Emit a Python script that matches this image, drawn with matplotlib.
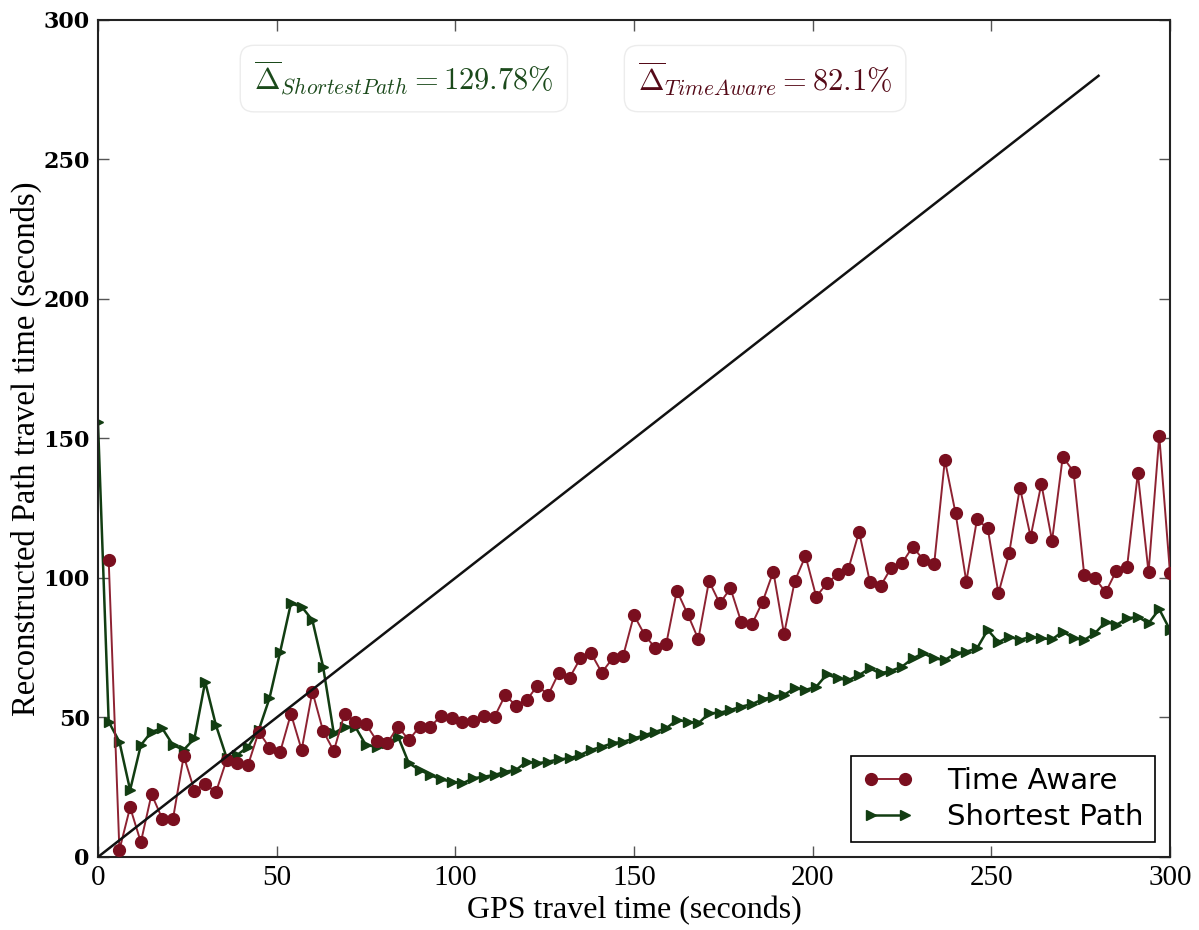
import matplotlib
matplotlib.use("Agg")
import matplotlib.pyplot as plt
import numpy as np

# ---- data ----
time_aware_x = [3 * k for k in range(1, 101)]
time_aware_y = [106.5, 2.5, 17.8, 5.3, 22.5, 13.7, 13.7, 36.2, 23.8, 26.2,
                23.2, 34.8, 33.8, 33.0, 44.9, 39.2, 37.7, 51.3, 38.4, 59.3,
                45.2, 38.0, 51.3, 48.5, 47.6, 41.7, 41.0, 46.7, 41.9, 46.7,
                46.7, 50.5, 49.7, 48.5, 48.9, 50.6, 50.3, 58.1, 54.1, 56.3,
                61.4, 58.1, 66.1, 64.3, 71.2, 73.0, 66.1, 71.2, 72.2, 86.7,
                79.6, 74.8, 76.2, 95.5, 87.1, 78.1, 98.9, 90.9, 96.3, 84.3,
                83.4, 91.5, 102.3, 79.9, 98.9, 107.9, 93.3, 98.1, 101.3, 103.2,
                116.6, 98.7, 97.1, 103.7, 105.3, 111.2, 106.5, 104.9, 142.3, 123.2,
                98.7, 121.0, 117.8, 94.5, 108.9, 132.4, 114.8, 133.7, 113.4, 143.5,
                138.1, 101.1, 99.9, 94.9, 102.6, 104.1, 137.5, 102.0, 150.9, 101.9]

shortest_x = [3 * k for k in range(0, 101)]
shortest_y = [156.0, 48.5, 41.3, 24.0, 40.1, 44.9, 46.1, 40.1, 38.4, 42.5,
              62.8, 47.3, 35.6, 36.6, 39.5, 45.5, 56.9, 73.6, 90.9, 89.7,
              84.9, 68.2, 44.3, 46.7, 46.7, 40.1, 39.5, 40.8, 43.1, 33.6,
              31.2, 29.4, 27.8, 27.0, 26.4, 28.2, 28.8, 29.4, 30.6, 31.2,
              34.2, 33.6, 34.2, 35.0, 35.4, 36.6, 38.4, 39.5, 40.8, 41.3,
              42.5, 43.7, 44.9, 46.1, 49.1, 48.5, 47.9, 51.5, 51.7, 52.7,
              53.9, 54.8, 56.5, 57.5, 58.1, 60.5, 59.9, 61.0, 65.5, 64.0,
              63.4, 65.2, 67.6, 65.8, 66.8, 68.2, 71.2, 73.0, 71.2, 70.6,
              73.0, 73.6, 74.8, 81.4, 77.0, 79.0, 77.8, 79.0, 78.4, 78.0,
              80.8, 78.4, 77.8, 80.2, 84.3, 83.2, 85.5, 86.1, 83.8, 88.8,
              81.4]

ideal_x = [0, 280]
ideal_y = [0, 280]

x_ticks = [0, 50, 100, 150, 200, 250, 300]
y_ticks = [0, 50, 100, 150, 200, 250, 300]

label_shortest = r'$\overline{\Delta}_{ShortestPath}=129.78\%$'
label_time = r'$\overline{\Delta}_{TimeAware}=82.1\%$'

# ---- style ----
plt.rcParams['mathtext.fontset'] = 'cm'
red_line = '#8e2232'
red_marker = '#7a0f1f'
green = '#123d12'

fig = plt.figure(figsize=(11.99, 9.30), dpi=100)
ax = fig.add_axes([0.0817, 0.0785, 0.8941, 0.9000])

ax.plot(time_aware_x, time_aware_y, '-o', color=red_line, mfc=red_marker,
        mec=red_marker, lw=1.4, ms=8.5, label='Time Aware', zorder=3)
ax.plot(shortest_x, shortest_y, '->', color=green, mfc=green, mec=green,
        lw=1.8, ms=6.5, label='Shortest Path', zorder=2)
ax.plot(ideal_x, ideal_y, '-', color='#111111', lw=1.8, zorder=4)

ax.set_xlim(0, 300)
ax.set_ylim(0, 300)
ax.set_xticks(x_ticks)
ax.set_yticks(y_ticks)
ax.tick_params(direction='in', top=True, right=True, length=8, width=1,
               color='#555555')
for lab in ax.get_xticklabels():
    lab.set_fontfamily('Liberation Serif')
    lab.set_fontsize(21)
for lab in ax.get_yticklabels():
    lab.set_fontfamily('DejaVu Serif')
    lab.set_fontsize(16)
    lab.set_fontweight('bold')
ax.tick_params(axis='x', pad=6)
ax.tick_params(axis='y', pad=6)

for s in ax.spines.values():
    s.set_linewidth(1.5)
    s.set_color('#222222')

ax.set_xlabel('GPS travel time (seconds)', fontfamily='Liberation Serif',
              fontsize=23, labelpad=3)
ax.set_ylabel('Reconstructed Path travel time (seconds)',
              fontfamily='Liberation Serif', fontsize=23.5)
ax.yaxis.set_label_coords(-0.052, 0.488)

bbox = dict(boxstyle='round,pad=0.45', fc='white', ec='#ececec', lw=1)
ax.text(85.6, 279, label_shortest, color='#1b4a1b', fontsize=22,
        ha='center', va='center', bbox=bbox, zorder=5)
ax.text(186.7, 279, label_time, color='#550a18', fontsize=22,
        ha='center', va='center', bbox=bbox, zorder=5)

leg = ax.legend(loc='lower right', prop={'family': 'DejaVu Sans', 'size': 21},
                numpoints=2, fancybox=False, framealpha=1, edgecolor='black',
                borderpad=0.4, handlelength=1.75, handletextpad=1.15,
                labelspacing=0.25, borderaxespad=0.5)
leg.get_frame().set_linewidth(1.2)

fig.savefig('out.png', dpi=100)
